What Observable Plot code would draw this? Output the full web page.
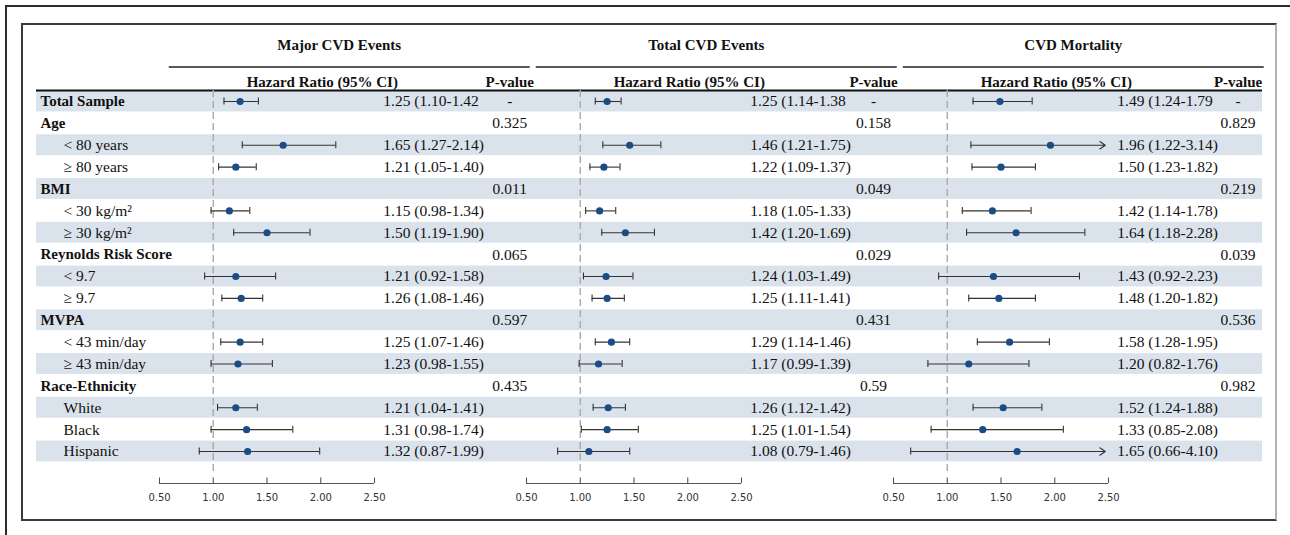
<!DOCTYPE html>
<html>
<head>
<meta charset="utf-8">
<script src="https://cdn.jsdelivr.net/npm/d3@7"></script>
<script src="https://cdn.jsdelivr.net/npm/@observablehq/plot@0.6"></script>
<style>
  html, body { margin: 0; padding: 0; background: #fff; width: 1290px; height: 535px; overflow: hidden; position: relative; }
  #outer { position: absolute; left: 5px; top: 5px; width: 1300px; height: 560px; border-left: 2px solid #2b2b2b; border-top: 2px solid #2b2b2b; }
  #inner { position: absolute; left: 21px; top: 23px; width: 1252px; height: 494px; border: 2px solid #3a3a3a; border-right-color: #b4b4b4; }
  #chart { position: absolute; left: 0; top: 0; }
</style>
</head>
<body>
<div id="outer"></div>
<div id="inner"></div>
<div id="chart"></div>
<script>
// ---------------- data ----------------
const panels = ["Major CVD Events", "Total CVD Events", "CVD Mortality"];
const rowLabels = ["Total Sample", "Age", "< 80 years", "≥ 80 years", "BMI", "< 30 kg/m²", "≥ 30 kg/m²",
  "Reynolds Risk Score", "< 9.7", "≥ 9.7", "MVPA", "< 43 min/day", "≥ 43 min/day",
  "Race-Ethnicity", "White", "Black", "Hispanic"];
const headerRows = [0, 1, 4, 7, 10, 13];

const majorHR = [1.25, null, 1.65, 1.21, null, 1.15, 1.50, null, 1.21, 1.26, null, 1.25, 1.23, null, 1.21, 1.31, 1.32];
const majorLo = [1.10, null, 1.27, 1.05, null, 0.98, 1.19, null, 0.92, 1.08, null, 1.07, 0.98, null, 1.04, 0.98, 0.87];
const majorHi = [1.42, null, 2.14, 1.40, null, 1.34, 1.90, null, 1.58, 1.46, null, 1.46, 1.55, null, 1.41, 1.74, 1.99];
const majorP  = ["-", "0.325", null, null, "0.011", null, null, "0.065", null, null, "0.597", null, null, "0.435", null, null, null];

const totalHR = [1.25, null, 1.46, 1.22, null, 1.18, 1.42, null, 1.24, 1.25, null, 1.29, 1.17, null, 1.26, 1.25, 1.08];
const totalLo = [1.14, null, 1.21, 1.09, null, 1.05, 1.20, null, 1.03, 1.11, null, 1.14, 0.99, null, 1.12, 1.01, 0.79];
const totalHi = [1.38, null, 1.75, 1.37, null, 1.33, 1.69, null, 1.49, 1.41, null, 1.46, 1.39, null, 1.42, 1.54, 1.46];
const totalP  = ["-", "0.158", null, null, "0.049", null, null, "0.029", null, null, "0.431", null, null, "0.59", null, null, null];

const mortHR = [1.49, null, 1.96, 1.50, null, 1.42, 1.64, null, 1.43, 1.48, null, 1.58, 1.20, null, 1.52, 1.33, 1.65];
const mortLo = [1.24, null, 1.22, 1.23, null, 1.14, 1.18, null, 0.92, 1.20, null, 1.28, 0.82, null, 1.24, 0.85, 0.66];
const mortHi = [1.79, null, 3.14, 1.82, null, 1.78, 2.28, null, 2.23, 1.82, null, 1.95, 1.76, null, 1.88, 2.08, 4.10];
const mortP  = ["-", "0.829", null, null, "0.219", null, null, "0.039", null, null, "0.536", null, null, "0.982", null, null, null];

const xTicks = [0.5, 1.0, 1.5, 2.0, 2.5];

// ---------------- tables ----------------
const series = [[majorHR, majorLo, majorHi, majorP], [totalHR, totalLo, totalHi, totalP], [mortHR, mortLo, mortHi, mortP]];
const est = [], pv = [];
panels.forEach((panel, k) => {
  const [hr, lo, hi, p] = series[k];
  rowLabels.forEach((label, i) => {
    if (hr[i] != null) est.push({panel, row: i, hr: hr[i], lo: lo[i], hi: hi[i]});
    if (p[i] != null) pv.push({panel, row: i, p: p[i]});
  });
});
const rows = rowLabels.map((label, i) => ({row: i, label, header: headerRows.includes(i)}));
const shaded = rows.filter(r => r.row % 2 === 0);

// ---------------- layout ----------------
const W = 1290, H = 535;
const ML = 159, MR = 30;            // facet strip from 0.50 of panel 1 to the right
const PW = (W - ML - MR) / 3;       // panel pitch
const PXU = 107.5;                  // pixels per HR unit
const PITCH = 21.875, TOP = 101 - PITCH / 2;
const NR = rowLabels.length;
const BOTTOM = TOP + NR * PITCH;
const XMAX_AXIS = 2.5;
const X = px => 0.5 + (px - ML) / PXU;          // absolute pixel -> x value (first panel)
const Y = py => -0.5 + (py - TOP) / PITCH;      // absolute pixel -> y value
const serif = "Liberation Serif, Times New Roman, serif";
const ink = "#111";
const fp = () => panels[0];
// P-value column centre, in pixels right of HR = 1, for each panel
const pOffset = [296.5, 293.3, 290.8];
const pX = panel => 1 + pOffset[panels.indexOf(panel)] / PXU;

const hrText = d => {
  const s = `${d.hr.toFixed(2)} (${d.lo.toFixed(2)}-${d.hi.toFixed(2)}`;
  return d.row === 0 ? s : s + ")";
};

const chart = Plot.plot({
  width: W,
  height: H,
  marginLeft: ML,
  marginRight: MR,
  marginTop: TOP,
  marginBottom: H - BOTTOM,
  style: {fontFamily: serif, fontSize: "15px", color: ink, background: "transparent", overflow: "visible"},
  fx: {domain: panels, padding: 0, axis: null, round: false, label: null},
  x: {domain: [0.5, 0.5 + PW / PXU], label: null},
  y: {domain: [-0.5, NR - 0.5], reverse: true, axis: null, label: null},
  facet: {margin: 0},
  marks: [
    // alternating row shading spanning the whole table
    Plot.rect(shaded, {fx: fp, x1: X(36), x2: X(1262), y1: d => d.row - 0.5, y2: d => d.row + 0.5,
      insetTop: 0.5, insetBottom: 0.5, fill: "#dae3ec"}),
    // heavy rule under the column headers
    Plot.ruleY([-0.5], {fx: fp, x1: X(36), x2: X(1262), stroke: "#111", strokeWidth: 2}),
    // panel title underline
    Plot.ruleY(panels, {fx: d => d, y: Y(66.5), x1: 1 - 44 / PXU, x2: 1 + 317 / PXU, stroke: "#222", strokeWidth: 1.3}),
    // panel titles & column headers
    Plot.text(panels, {fx: d => d, x: 1 + 126 / PXU, y: Y(45), text: d => d, fontWeight: "bold", fontSize: 15, fontFamily: serif}),
    Plot.text(panels, {fx: d => d, x: 1 + 109 / PXU, y: Y(82), text: () => "Hazard Ratio (95% CI)", fontWeight: "bold", fontSize: 15, fontFamily: serif}),
    Plot.text(panels, {fx: d => d, x: d => pX(d), y: Y(82), text: () => "P-value", fontWeight: "bold", fontSize: 15, fontFamily: serif}),
    // row labels
    Plot.text(rows.filter(r => r.header), {fx: fp, x: X(40), y: "row", text: "label", textAnchor: "start", fontWeight: "bold", fontSize: 15, fontFamily: serif}),
    Plot.text(rows.filter(r => !r.header), {fx: fp, x: X(63), y: "row", text: "label", textAnchor: "start", fontSize: 15.5, fontFamily: serif}),
    // reference line at HR = 1
    Plot.ruleX([1], {y1: -0.5, y2: Y(472), stroke: "#a9a9a9", strokeWidth: 1.4, strokeDasharray: "7,4"}),
    // confidence intervals
    Plot.ruleY(est.filter(d => d.hi <= XMAX_AXIS), {fx: "panel", y: "row", x1: "lo", x2: "hi", stroke: "#333", strokeWidth: 1.1}),
    Plot.ruleX(est, {fx: "panel", x: "lo", y1: d => d.row - 0.16, y2: d => d.row + 0.16, stroke: "#333", strokeWidth: 1.1}),
    Plot.ruleX(est.filter(d => d.hi <= XMAX_AXIS), {fx: "panel", x: "hi", y1: d => d.row - 0.16, y2: d => d.row + 0.16, stroke: "#333", strokeWidth: 1.1}),
    Plot.arrow(est.filter(d => d.hi > XMAX_AXIS), {fx: "panel", x1: "lo", y1: "row", x2: () => XMAX_AXIS - 0.03, y2: "row",
      stroke: "#333", strokeWidth: 1.1, headLength: 9, headAngle: 70}),
    // point estimates
    Plot.dot(est, {fx: "panel", x: "hr", y: "row", r: 3.6, fill: "#1b4c86", stroke: "none"}),
    // HR text and p-values
    Plot.text(est, {fx: "panel", x: 1 + 170 / PXU, y: "row", text: hrText, textAnchor: "start", fontSize: 15.5, fontFamily: serif}),
    Plot.text(pv, {fx: "panel", x: d => pX(d.panel), y: "row", text: "p", fontSize: 15.5, fontFamily: serif}),
    // x axis: line, upward ticks, labels
    Plot.ruleY([Y(483)], {x1: xTicks[0], x2: xTicks[xTicks.length - 1], stroke: "#555", strokeWidth: 1.1}),
    Plot.ruleX(xTicks, {x: d => d, y1: Y(477.5), y2: Y(483), stroke: "#555", strokeWidth: 1.1}),
    Plot.axisX(xTicks, {anchor: "bottom", tickSize: 0, tickPadding: 31, tickFormat: d => d.toFixed(2),
      fontSize: 10, fontFamily: "DejaVu Sans, sans-serif", color: "#333", label: null})
  ]
});
document.getElementById("chart").append(chart);
</script>
</body>
</html>
